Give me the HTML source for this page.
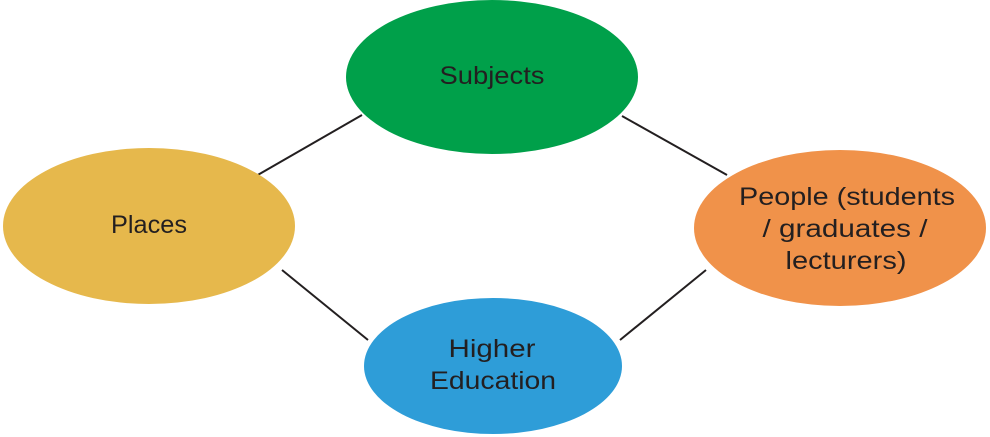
<!DOCTYPE html>
<html><head><style>html,body{margin:0;padding:0;background:#fff;width:990px;height:437px;overflow:hidden}</style></head>
<body>
<svg width="990" height="437" viewBox="0 0 990 437" xmlns="http://www.w3.org/2000/svg" font-family="Liberation Sans, sans-serif" font-size="25" fill="#231f20">
<g stroke="#231f20" stroke-width="2">
<line x1="256" y1="176" x2="362" y2="115"/>
<line x1="622" y1="116" x2="727" y2="175"/>
<line x1="282" y1="270" x2="368" y2="340"/>
<line x1="620" y1="340" x2="706" y2="270"/>
</g>
<ellipse cx="492" cy="77" rx="146" ry="77" fill="#00a04a"/>
<ellipse cx="149" cy="226" rx="146" ry="78" fill="#e6b84c"/>
<ellipse cx="840" cy="228" rx="146" ry="78" fill="#f0924a"/>
<ellipse cx="493" cy="366" rx="129" ry="68" fill="#2e9dd8"/>
<g text-anchor="middle">
<text x="492" y="84" textLength="105" lengthAdjust="spacingAndGlyphs">Subjects</text>
<text x="149" y="233" textLength="76" lengthAdjust="spacingAndGlyphs">Places</text>
<text x="847" y="205" textLength="216" lengthAdjust="spacingAndGlyphs">People (students</text>
<text x="845" y="237" textLength="165" lengthAdjust="spacingAndGlyphs">/ graduates /</text>
<text x="846" y="269" textLength="121" lengthAdjust="spacingAndGlyphs">lecturers)</text>
<text x="492" y="357" textLength="87" lengthAdjust="spacingAndGlyphs">Higher</text>
<text x="493" y="389" textLength="126" lengthAdjust="spacingAndGlyphs">Education</text>
</g>
</svg>
</body></html>
